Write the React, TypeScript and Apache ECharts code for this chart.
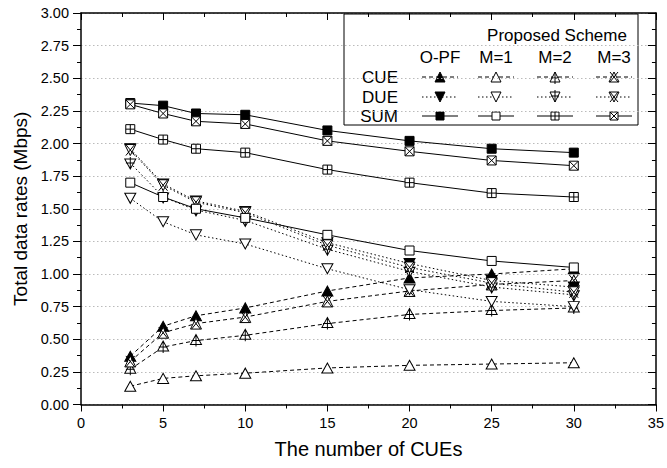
import React, { useEffect, useRef } from "react";
import * as echarts from "echarts";

// Number of CUEs on the x axis
const cues = [3, 5, 7, 10, 15, 20, 25, 30];

// CUE data rates (Mbps)
const cueOPF = [0.37, 0.6, 0.68, 0.74, 0.87, 0.97, 1.0, 1.04];
const cueM1 = [0.14, 0.2, 0.22, 0.24, 0.28, 0.3, 0.31, 0.32];
const cueM2 = [0.27, 0.44, 0.49, 0.53, 0.62, 0.69, 0.72, 0.74];
const cueM3 = [0.33, 0.55, 0.62, 0.67, 0.79, 0.87, 0.92, 0.95];

// DUE data rates (Mbps)
const dueOPF = [1.96, 1.69, 1.56, 1.48, 1.24, 1.08, 0.95, 0.9];
const dueM1 = [1.58, 1.4, 1.3, 1.23, 1.04, 0.88, 0.79, 0.75];
const dueM2 = [1.85, 1.59, 1.49, 1.41, 1.19, 1.02, 0.9, 0.84];
const dueM3 = [1.95, 1.68, 1.55, 1.47, 1.22, 1.05, 0.93, 0.86];

// Sum rates (Mbps)
const sumOPF = [2.31, 2.29, 2.23, 2.22, 2.1, 2.02, 1.96, 1.93];
const sumM1 = [1.7, 1.59, 1.5, 1.43, 1.3, 1.18, 1.1, 1.05];
const sumM2 = [2.11, 2.03, 1.96, 1.93, 1.8, 1.7, 1.62, 1.59];
const sumM3 = [2.3, 2.23, 2.17, 2.15, 2.02, 1.94, 1.87, 1.83];

const yTicks = ["0.00", "0.25", "0.50", "0.75", "1.00", "1.25", "1.50", "1.75", "2.00", "2.25", "2.50", "2.75", "3.00"];

const columns = ["O-PF", "M=1", "M=2", "M=3"];
const rows = ["CUE", "DUE", "SUM"];

const FONT = "'Liberation Sans', Arial, Helvetica, sans-serif";

// Marker outlines, drawn in a 10x10 box
const PATHS: Record<string, string> = {
  triUp: "M0,10L5,0L10,10Z",
  triUpPlus: "M0,10L5,0L10,10Z M5,0L5,12 M1,6L9,6",
  triUpX: "M0,10L5,0L10,10Z M1,0L9,10 M9,0L1,10",
  triDown: "M0,0L10,0L5,10Z",
  triDownPlus: "M0,0L10,0L5,10Z M5,-2L5,10 M1,4L9,4",
  triDownX: "M0,0L10,0L5,10Z M1,0L9,10 M9,0L1,10",
  sq: "M0,0L10,0L10,10L0,10Z",
  sqPlus: "M0,0L10,0L10,10L0,10Z M5,0L5,10 M0,5L10,5",
  sqX: "M0,0L10,0L10,10L0,10Z M0,0L10,10 M10,0L0,10",
};

Object.keys(PATHS).forEach((k) => {
  echarts.graphic.registerShape("mk_" + k, echarts.graphic.extendPath(PATHS[k], {}) as any);
});

const dashCUE = [4, 3];
const dashDUE = [1.5, 2.5];

type Spec = {
  name: string;
  data: number[];
  shape: string;
  filled: boolean;
  dash: number[] | "solid";
  size: number[];
};

const specs: Spec[][] = [
  [
    { name: "CUE O-PF", data: cueOPF, shape: "triUp", filled: true, dash: dashCUE, size: [11, 10] },
    { name: "CUE M=1", data: cueM1, shape: "triUp", filled: false, dash: dashCUE, size: [11, 10] },
    { name: "CUE M=2", data: cueM2, shape: "triUpPlus", filled: false, dash: dashCUE, size: [11, 12] },
    { name: "CUE M=3", data: cueM3, shape: "triUpX", filled: false, dash: dashCUE, size: [11, 11] },
  ],
  [
    { name: "DUE O-PF", data: dueOPF, shape: "triDown", filled: true, dash: dashDUE, size: [11, 10] },
    { name: "DUE M=1", data: dueM1, shape: "triDown", filled: false, dash: dashDUE, size: [11, 10] },
    { name: "DUE M=2", data: dueM2, shape: "triDownPlus", filled: false, dash: dashDUE, size: [11, 12] },
    { name: "DUE M=3", data: dueM3, shape: "triDownX", filled: false, dash: dashDUE, size: [11, 11] },
  ],
  [
    { name: "SUM O-PF", data: sumOPF, shape: "sq", filled: true, dash: "solid", size: [9, 9] },
    { name: "SUM M=1", data: sumM1, shape: "sq", filled: false, dash: "solid", size: [9, 9] },
    { name: "SUM M=2", data: sumM2, shape: "sqPlus", filled: false, dash: "solid", size: [9, 9] },
    { name: "SUM M=3", data: sumM3, shape: "sqX", filled: false, dash: "solid", size: [9, 9] },
  ],
];

function buildLegend(): any[] {
  const bx = 344, by = 14, bw = 294, bh = 111;
  const colX = [440, 496, 555, 614];
  const rowY = [77, 97, 116];
  const els: any[] = [
    { type: "rect", shape: { x: bx, y: by, width: bw, height: bh }, style: { fill: "#fff", stroke: "#000", lineWidth: 1 } },
    { type: "text", x: 557, y: 35, style: { text: "Proposed Scheme", font: `17px ${FONT}`, fill: "#000", align: "center", verticalAlign: "middle" } },
  ];
  columns.forEach((c, i) => {
    els.push({ type: "text", x: colX[i], y: 57, style: { text: c, font: `17px ${FONT}`, fill: "#000", align: "center", verticalAlign: "middle" } });
  });
  rows.forEach((r, j) => {
    els.push({ type: "text", x: 398, y: rowY[j], style: { text: r, font: `17px ${FONT}`, fill: "#000", align: "right", verticalAlign: "middle" } });
    specs[j].forEach((s, i) => {
      const cx = colX[i], cy = rowY[j];
      els.push({
        type: "line",
        shape: { x1: cx - 18, y1: cy, x2: cx + 18, y2: cy },
        style: { stroke: "#000", lineWidth: 1, lineDash: s.dash === "solid" ? null : s.dash },
      });
      const sc = s.shape.startsWith("sq") ? 0.8 : 1.0;
      els.push({
        type: "mk_" + s.shape,
        x: cx - 5 * sc,
        y: cy - 5 * sc,
        scaleX: sc,
        scaleY: sc,
        style: { fill: s.filled ? "#000" : "#fff", stroke: "#000", lineWidth: 1 / sc },
      });
    });
  });
  return [{ type: "group", z: 100, children: els }];
}

export default function App() {
  const ref = useRef<HTMLDivElement>(null);

  useEffect(() => {
    document.body.style.margin = "0";
    if (!ref.current) return;
    const chart = echarts.init(ref.current, null, { renderer: "svg" });

    const series: any[] = [];
    specs.forEach((group) =>
      group.forEach((s) => {
        series.push({
          type: "line",
          name: s.name,
          data: cues.map((x, i) => [x, s.data[i]]),
          symbol: "path://" + PATHS[s.shape],
          symbolSize: s.size,
          showSymbol: true,
          lineStyle: { color: "#000", width: 1, type: s.dash },
          itemStyle: { color: s.filled ? "#000" : "#fff", borderColor: "#000", borderWidth: 1 },
          emphasis: { disabled: true },
          z: 3,
        });
      })
    );

    const baseTick = { lineStyle: { color: "#000", width: 1 } };

    chart.setOption({
      animation: false,
      backgroundColor: "#fff",
      grid: { left: 81, right: 8, top: 13, bottom: 63.5, containLabel: false },
      xAxis: [
        {
          type: "value",
          position: "bottom",
          min: 0,
          max: 35,
          interval: 5,
          name: "The number of CUEs",
          nameLocation: "middle",
          nameGap: 34,
          nameTextStyle: { fontFamily: FONT, fontSize: 20, color: "#000" },
          axisLine: { onZero: false, lineStyle: { color: "#000", width: 1.5 } },
          axisTick: { show: true, inside: false, length: 7, ...baseTick },
          minorTick: { show: true, splitNumber: 2, length: 4, lineStyle: { color: "#000", width: 1 } },
          axisLabel: { fontFamily: FONT, fontSize: 14.5, color: "#000", margin: 11 },
          splitLine: { show: false },
        },
        {
          type: "value",
          position: "top",
          min: 0,
          max: 35,
          interval: 5,
          axisLine: { onZero: false, lineStyle: { color: "#000", width: 1.5 } },
          axisTick: { show: true, inside: true, length: 7, ...baseTick },
          minorTick: { show: true, splitNumber: 2, length: 4, lineStyle: { color: "#000", width: 1 } },
          axisLabel: { show: false },
          splitLine: { show: false },
        },
      ],
      yAxis: [
        {
          type: "value",
          position: "left",
          min: 0,
          max: 3,
          interval: 0.25,
          name: "Total data rates (Mbps)",
          nameLocation: "middle",
          nameGap: 49,
          nameTextStyle: { fontFamily: FONT, fontSize: 19, color: "#000" },
          axisLine: { onZero: false, lineStyle: { color: "#000", width: 1.5 } },
          axisTick: { show: true, inside: false, length: 8, ...baseTick },
          minorTick: { show: true, splitNumber: 2, length: 4, lineStyle: { color: "#000", width: 1 } },
          axisLabel: {
            fontFamily: FONT,
            fontSize: 14.5,
            color: "#000",
            margin: 12,
            formatter: (v: number) => yTicks[Math.round(v / 0.25)] ?? "",
          },
          splitLine: { show: true, lineStyle: { color: "#bbb", width: 1, type: [1.5, 2.5] } },
        },
        {
          type: "value",
          position: "right",
          min: 0,
          max: 3,
          interval: 0.25,
          axisLine: { onZero: false, lineStyle: { color: "#000", width: 1.5 } },
          axisTick: { show: true, inside: true, length: 8, ...baseTick },
          minorTick: { show: true, splitNumber: 2, length: 4, lineStyle: { color: "#000", width: 1 } },
          axisLabel: { show: false },
          splitLine: { show: false },
        },
      ],
      series,
      graphic: buildLegend(),
    });

    return () => chart.dispose();
  }, []);

  return <div ref={ref} style={{ width: 667, height: 468 }} />;
}
